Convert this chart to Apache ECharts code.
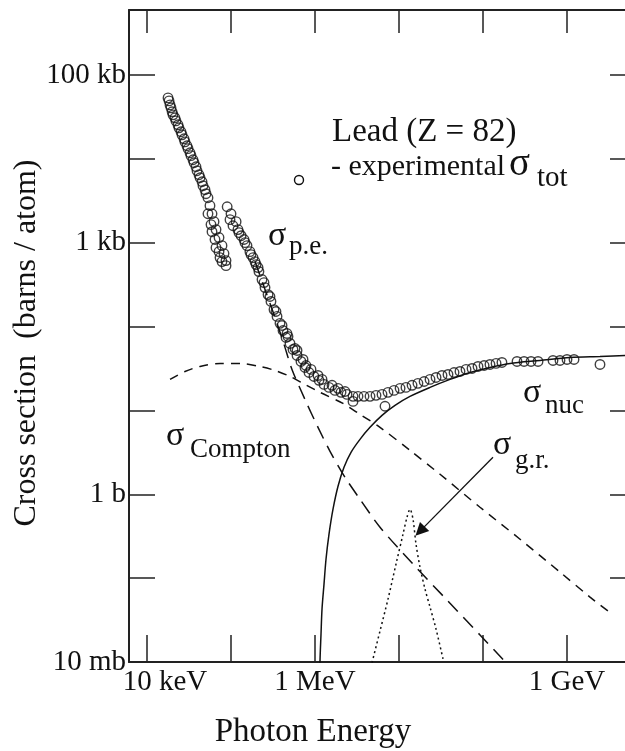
<!DOCTYPE html>
<html>
<head>
<meta charset="utf-8">
<script src="https://cdn.jsdelivr.net/npm/echarts@6/dist/echarts.min.js"></script>
<style>
  html, body { margin: 0; padding: 0; background: #fff; }
  #chart { width: 625px; height: 751px; }
</style>
</head>
<body>
<div id="chart"></div>
<script>
// Photon cross sections for lead: energies in MeV, cross sections in barns/atom.

// Measured total cross section (open circles)
const expEnergy = [
  // below the K edge
  0.0178, 0.0183, 0.0188, 0.0193, 0.0199, 0.0204, 0.0215, 0.0221, 0.0234, 0.0240,
  0.0254, 0.0261, 0.0276, 0.0283, 0.0299, 0.0308, 0.0325, 0.0334, 0.0353, 0.0363,
  0.0383, 0.0394, 0.0416, 0.0428, 0.0452, 0.0464, 0.0490, 0.0504, 0.0532, 0.0562,
  0.0594, 0.0628, 0.0663, 0.0720, 0.0781, 0.0825, 0.0872, 0.0872,
  0.0578, 0.0645, 0.0720, 0.0781, 0.0532, 0.0594, 0.0663, 0.0740,
  // above the K edge
  0.090, 0.100, 0.0973, 0.1056, 0.115, 0.121, 0.1245, 0.132, 0.143, 0.1468,
  0.155, 0.168, 0.173, 0.183, 0.193, 0.199, 0.210, 0.215, 0.234, 0.247,
  0.254, 0.276, 0.291, 0.299, 0.325, 0.343, 0.353, 0.383, 0.405, 0.416,
  0.452, 0.477, 0.504, 0.547, 0.578, 0.611, 0.681, 0.720, 0.760, 0.848,
  0.896, 0.973, 1.116, 1.212, 1.280, 1.468, 1.730, 1.879, 2.040, 2.404,
  2.834, 3.251, 3.831, 4.516, 5.324, 6.276, 7.396, 8.72, 10.3, 12.1,
  14.3, 16.8, 19.9, 23.4, 27.6, 32.5, 38.3, 45.2, 53.2, 62.8,
  74.0, 87.2, 103, 121, 143, 168, 254, 308, 373, 452,
  681, 825, 1000, 1212, 2470,
  2.834, 6.813, 0.464, 0.611, 0.781, 1.086, 1.594, 2.276
];
const expSigma = [
  53200, 49000, 43900, 40500, 36300, 33400, 30800, 28300, 25400, 23400,
  21000, 19300, 17300, 15900, 14300, 13200, 11800, 10900, 9730, 8960,
  8030, 7200, 6450, 5940, 5320, 4770, 4280, 3830, 3430, 2760,
  2210, 1780, 1430, 1150, 921, 740, 611, 532,
  1640, 1090, 781, 594, 2210, 1350, 872, 663,
  2680, 2210, 1880, 1590, 1780, 1430, 1315, 1210, 1090, 1000,
  921, 781, 720, 663, 594, 547, 504, 452, 363, 334,
  291, 240, 228, 199, 159, 151, 132, 109, 103, 89.6,
  74.0, 76.0, 62.8, 53.2, 54.7, 45.2, 38.3, 40.5, 32.5, 28.3,
  30.8, 25.4, 22.8, 23.4, 20.4, 18.8, 17.3, 18.3, 16.4, 15.5,
  14.7, 14.7, 14.7, 14.7, 15.1, 15.5, 16.4, 17.3, 18.3, 18.8,
  19.9, 21.0, 22.1, 23.4, 24.7, 26.1, 26.8, 28.3, 29.1, 30.8,
  31.6, 33.4, 34.3, 35.3, 36.3, 37.3, 38.3, 38.3, 38.3, 38.3,
  39.4, 39.4, 40.5, 40.5, 35.3,
  12.8, 11.2, 82.5, 51.8, 34.3, 26.1, 19.9, 16.8
];

// Photoelectric absorption (long dashes)
const peEnergy = [0.193, 0.254, 0.334, 0.428, 0.532, 0.760, 1.086, 1.509, 2.276, 3.433, 5.94, 14.68, 37.3, 92.1, 210];
const peSigma  = [594, 276, 128, 61.1, 30.8, 13.5, 6.276, 3.251, 1.594, 0.872, 0.405, 0.147, 0.0547, 0.021, 0.0087];

// Compton scattering (short dashes)
const comptonEnergy = [0.0188, 0.0283, 0.0428, 0.0740, 0.128, 0.221, 0.334, 0.504, 0.760, 1.147, 2.154, 3.433, 5.94, 13.5, 30.8, 92.1, 276, 825, 1879, 3077];
const comptonSigma  = [23.4, 29.1, 33.4, 36.3, 36.3, 33.4, 29.9, 25.4, 20.4, 16.4, 12.1, 8.963, 6.276, 3.341, 1.730, 0.700, 0.291, 0.118, 0.0594, 0.0405];

// Pair production in the nuclear field (solid)
const nucEnergy = [1.13, 1.147, 1.179, 1.212, 1.280, 1.352, 1.468, 1.638, 1.879, 2.214, 2.683, 3.433, 4.516, 6.276, 8.963, 13.5, 23.4, 40.5, 70.0, 121, 210, 477, 1086, 2471, 5623];
const nucSigma  = [0.003, 0.0103, 0.0215, 0.0428, 0.0848, 0.168, 0.334, 0.663, 1.245, 2.096, 3.162, 4.516, 6.276, 8.72, 11.47, 14.68, 18.8, 23.4, 28.3, 32.5, 36.3, 39.4, 42.75, 43.9, 45.2];

// Giant dipole resonance (dotted)
const grEnergy = [4.77, 5.94, 7.396, 9.21, 11.16, 12.45, 13.52, 14.68, 15.94, 17.78, 20.4, 23.4, 27.6, 33.4];
const grSigma  = [0.0098, 0.0234, 0.0562, 0.147, 0.334, 0.532, 0.663, 0.504, 0.254, 0.135, 0.074, 0.0452, 0.0247, 0.0109];

// Arrow pointing at the resonance: [energy, sigma] of tail and head
const grArrowTail = [131.5, 2.76];
const grArrowHead = [17.8, 0.363];

// Tick labels keyed by decade exponent
const xTickLabels = { '-2': '10 keV', '0': '1 MeV', '3': '1 GeV' };
const yTickLabels = { '5': '100 kb', '3': '1 kb', '0': '1 b', '-2': '10 mb' };

// Axis ranges
const xRange = [0.006105, 6627];
const yRange = [0.01, 594000];

const FONT = '"Liberation Serif", "Times New Roman", "DejaVu Serif", serif';
const INK = '#111';

function pairs(xs, ys) { return xs.map((x, i) => [x, ys[i]]); }
function decade(v) { return String(Math.round(Math.log10(v))); }

function curve(name, xs, ys, dash, extra) {
  return Object.assign({
    name: name,
    type: 'line',
    data: pairs(xs, ys),
    showSymbol: false,
    smooth: 0.3,
    clip: true,
    silent: true,
    lineStyle: { color: INK, width: 1.5, type: dash },
    z: 2
  }, extra || {});
}

function label(str, x, y, size) {
  return {
    type: 'text', x: x, y: y, silent: true,
    style: { text: str, font: size + 'px ' + FONT, fill: INK, align: 'left', verticalAlign: 'middle' }
  };
}

const axisCommon = {
  type: 'log',
  logBase: 10,
  splitLine: { show: false },
  minorTick: { show: false },
  axisLine: { onZero: false, lineStyle: { color: '#222', width: 2 } }
};

const chart = echarts.init(document.getElementById('chart'), null, { renderer: 'canvas' });

chart.setOption({
  animation: false,
  backgroundColor: '#fff',
  grid: { left: 129, top: 10, right: -11, bottom: 89, containLabel: false, outerBoundsMode: 'none' },
  xAxis: [
    Object.assign({}, axisCommon, {
      min: xRange[0], max: xRange[1], position: 'bottom',
      axisTick: { inside: true, length: 27, lineStyle: { color: '#222', width: 1.5 } },
      axisLabel: {
        margin: 6, color: INK, fontFamily: FONT, fontSize: 29,
        formatter: v => {
          const t = xTickLabels[decade(v)];
          if (!t) return '';
          return decade(v) === '-2' ? '{k|' + t + '}' : t;
        },
        rich: { k: { fontFamily: FONT, fontSize: 29, color: INK, padding: [0, 0, 0, 36] } }
      },
      name: 'Photon Energy', nameLocation: 'middle', nameGap: 54, nameMoveOverlap: false,
      nameTextStyle: { fontFamily: FONT, fontSize: 33, color: INK, padding: [0, 139, 0, 0] }
    }),
    Object.assign({}, axisCommon, {
      min: xRange[0], max: xRange[1], position: 'top',
      axisTick: { inside: true, length: 23, lineStyle: { color: '#222', width: 1.5 } },
      axisLabel: { show: false }
    })
  ],
  yAxis: [
    Object.assign({}, axisCommon, {
      min: yRange[0], max: yRange[1], position: 'left',
      axisTick: { inside: true, length: 26, lineStyle: { color: '#222', width: 1.5 } },
      axisLabel: {
        margin: 3, color: INK, fontFamily: FONT, fontSize: 29,
        formatter: v => yTickLabels[decade(v)] || ''
      },
      name: 'Cross section  (barns / atom)', nameLocation: 'middle', nameGap: 86, nameRotate: 90,
      nameMoveOverlap: false,
      nameTextStyle: { fontFamily: FONT, fontSize: 32, color: INK, padding: [0, 14, 0, 0] }
    }),
    Object.assign({}, axisCommon, {
      min: yRange[0], max: yRange[1], position: 'right',
      axisTick: { inside: true, length: 26, lineStyle: { color: '#222', width: 1.5 } },
      axisLabel: { show: false }
    })
  ],
  series: [
    curve('photoelectric', peEnergy, peSigma, [14, 8]),
    curve('Compton', comptonEnergy, comptonSigma, [9, 7]),
    curve('nuclear pair', nucEnergy, nucSigma, 'solid'),
    curve('giant resonance', grEnergy, grSigma, [2, 3], {
      markLine: {
        silent: true,
        symbol: ['none', 'triangle'],
        symbolSize: 13,
        label: { show: false },
        lineStyle: { color: INK, width: 1.3, type: 'solid' },
        data: [[{ coord: grArrowTail }, { coord: grArrowHead }]]
      }
    }),
    {
      name: 'experimental',
      type: 'scatter',
      data: pairs(expEnergy, expSigma),
      symbol: 'circle',
      symbolSize: 9.5,
      silent: true,
      itemStyle: { color: 'rgba(255,255,255,0)', borderColor: INK, borderWidth: 1.4 },
      z: 5
    }
  ],
  graphic: [
    label('Lead (Z = 82)', 332, 132, 33),
    {
      type: 'circle', silent: true,
      shape: { cx: 299, cy: 180, r: 4.5 },
      style: { fill: 'none', stroke: INK, lineWidth: 1.4 }
    },
    label('- experimental', 331, 167, 30),
    label('σ', 509, 165, 39),
    label('tot', 537, 178, 29),
    label('σ', 268, 236, 34),
    label('p.e.', 289, 247, 27),
    label('σ', 166, 436, 34),
    label('Compton', 190, 450, 27),
    label('σ', 523, 393, 34),
    label('nuc', 545, 406, 27),
    label('σ', 493, 445, 34),
    label('g.r.', 515, 461, 27)
  ]
});
</script>
</body>
</html>
